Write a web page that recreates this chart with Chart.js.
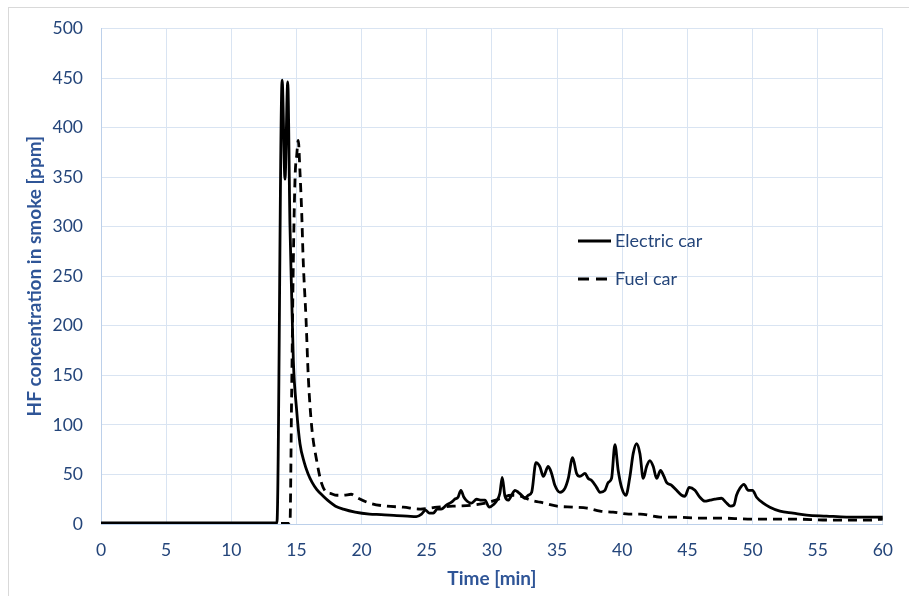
<!DOCTYPE html>
<html>
<head>
<meta charset="utf-8">
<script src="https://cdn.jsdelivr.net/npm/chart.js@4"></script>
<style>
html,body{margin:0;padding:0;background:#fff;}
#wrap{width:909px;height:596px;position:relative;}
</style>
</head>
<body>
<div id="wrap"><canvas id="c" width="909" height="596"></canvas></div>
<script>
const electricTime = [0,5,10,13.5,13.9,14.12,14.33,14.5,14.63,14.76,15.02,15.27,15.6,15.88,16.2,16.55,17.06,17.57,18.0,18.6,19.5,20.6,21.5,22.7,23.5,24.2,24.6,24.9,25.2,25.5,25.8,26.1,26.5,26.9,27.15,27.4,27.62,27.85,28.1,28.44,28.83,29.2,29.46,29.8,30.15,30.4,30.61,30.79,31.0,31.25,31.51,31.77,32.02,32.28,32.53,32.79,33.05,33.38,33.68,33.94,34.32,34.58,34.83,35.22,35.6,35.86,36.19,36.5,36.75,37.14,37.39,37.65,38.03,38.29,38.67,38.93,39.18,39.44,39.69,39.95,40.28,40.59,40.84,41.1,41.36,41.61,41.87,42.12,42.38,42.64,42.94,43.2,43.4,43.79,44.17,44.56,44.81,45.14,45.58,45.96,46.34,46.73,47.11,47.62,47.95,48.31,48.57,48.77,49.03,49.34,49.67,50.0,50.31,50.82,51.33,52.1,53.12,54.15,55.68,57.21,58.75,60];
const electricHF = [1,1,1,1,448,348,446,302,232,165,114,81,62,51,42,35,28,22,18,15,12,10,9.5,8.5,8,7.5,10,14,11,11,15,15,19,22,25,27,34,27,23,21,25,24,24,17,20,24,31,47,28,24,29,34,32,29,26,29,32,62,58,48,58,51,39,32,36,46,67,51,48,51,46,44,37,32,34,42,46,80,54,37,29,48,71,81,71,46,58,64,58,46,54,48,42,39,34,29,28,37,34,27,23,24,25,26,22,18,19,29,36,40,34,34,27,21,17,13,11,9,8,7,7,7];

const fuelTime = [0,5,10,14.5,14.63,14.76,14.89,15.02,15.14,15.27,15.4,15.52,15.73,15.91,16.17,16.55,16.93,17.3,17.57,18.1,18.6,19.2,19.6,20.64,21.9,23.2,24.5,25.8,27,28.5,29.5,30.5,31.5,32.2,33,33.7,35,36.2,37.3,38.3,39.3,40.5,41.4,42.9,44,46,47.3,50,53,56,59,60];
const fuelHF = [0.5,0.5,0.5,0.5,131,265,349,372,387,355,315,265,208,148,98,64,41,32,31,29,29,30,27,21,18,17,15,17,18,19,21,25,29,28,24,22,18,17,16,13,12,10,10,7,7,6,6,5,5,4,4,5];

const seriesLabels = ['Electric car','Fuel car'];
const xTicks = [0,5,10,15,20,25,30,35,40,45,50,55,60];
const yTicks = [0,50,100,150,200,250,300,350,400,450,500];

const toPts = (xs, ys) => xs.map((x,i)=>({x:x,y:ys[i]}));

const tickColor = '#24457a';
const titleColor = '#2f5597';
const gridColor = '#d9e4f2';

const borderPlugin = {
  id:'outerBorder',
  beforeDraw(chart){
    const ctx = chart.ctx;
    ctx.save();
    ctx.fillStyle='#fff';
    ctx.fillRect(0,0,chart.width,chart.height);
    ctx.strokeStyle='#d9d9d9';
    ctx.lineWidth=1;
    ctx.strokeRect(8.5,7.5,chart.width+10,chart.height+10);
    ctx.restore();
  }
};

const legendPlugin = {
  id:'innerLegend',
  afterDatasetsDraw(chart){
    const ctx = chart.ctx;
    const items = [{y:241},{y:279}];
    ctx.save();
    chart.data.datasets.forEach((ds,i)=>{
      const y = items[i].y;
      ctx.beginPath();
      ctx.strokeStyle = ds.borderColor;
      ctx.lineWidth = ds.borderWidth;
      ctx.setLineDash(ds.borderDash ? [11,7] : []);
      ctx.moveTo(578,y);
      ctx.lineTo(611,y);
      ctx.stroke();
      ctx.setLineDash([]);
      ctx.fillStyle = tickColor;
      ctx.font = '18px Lato';
      ctx.textBaseline='middle';
      ctx.textAlign='left';
      ctx.fillText(ds.label, 615, y);
    });
    ctx.restore();
  }
};

new Chart(document.getElementById('c'), {
  type:'line',
  data:{
    datasets:[
      {label:seriesLabels[0], data:toPts(electricTime, electricHF), borderColor:'#000', borderWidth:2.8, pointRadius:0, cubicInterpolationMode:'monotone', fill:false},
      {label:seriesLabels[1], data:toPts(fuelTime, fuelHF), borderColor:'#000', borderWidth:2.8, borderDash:[9,6], pointRadius:0, cubicInterpolationMode:'monotone', fill:false}
    ]
  },
  options:{
    responsive:false,
    animation:false,
    events:[],
    layout:{padding:{left:0,top:26,right:26,bottom:0}},
    plugins:{legend:{display:false},tooltip:{enabled:false}},
    scales:{
      x:{
        type:'linear', min:0, max:60,
        afterBuildTicks(s){ s.ticks = xTicks.map(v=>({value:v})); },
        afterFit(s){ s.height = 72; },
        grid:{color:gridColor, drawTicks:false, lineWidth:1},
        border:{color:'#bcd0ea', width:1},
        ticks:{color:tickColor, font:{family:'Lato', size:17.5}, padding:16, maxRotation:0},
        title:{display:true, text:'Time [min]', color:titleColor, font:{family:'Lato', size:19, weight:'bold'}, padding:{top:0,bottom:6}}
      },
      y:{
        type:'linear', min:0, max:500,
        afterBuildTicks(s){ s.ticks = yTicks.map(v=>({value:v})); },
        afterFit(s){ s.width = 101; },
        grid:{color:gridColor, drawTicks:false, lineWidth:1},
        border:{color:'#bcd0ea', width:1},
        ticks:{color:tickColor, font:{family:'Lato', size:17.5}, padding:18},
        title:{display:true, text:'HF concentration in smoke [ppm]', color:titleColor, font:{family:'Lato', size:19, weight:'bold'}, padding:{top:23,bottom:0}}
      }
    }
  },
  plugins:[borderPlugin, legendPlugin]
});
</script>
</body>
</html>
